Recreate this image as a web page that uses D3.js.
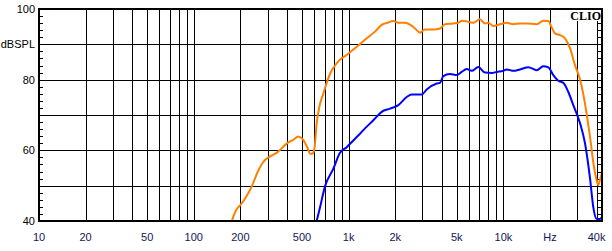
<!DOCTYPE html>
<html>
<head>
<meta charset="utf-8">
<script src="https://cdn.jsdelivr.net/npm/d3@7"></script>
<style>
  html, body { margin: 0; padding: 0; background: #fff; }
  svg { display: block; }
</style>
</head>
<body>
<svg id="chart" width="612" height="251"></svg>
<script>
// ---- Data ----
const xTickValues = [10, 20, 50, 100, 200, 500, 1000, 2000, 5000, 10000, 20000, 40000];
const xTickLabels = ["10", "20", "50", "100", "200", "500", "1k", "2k", "5k", "10k", "Hz", "40k"];
const yTickValues = [100, 90, 80, 60, 40];
const yTickLabels = ["100", "dBSPL", "80", "60", "40"];
const yGridValues = [100, 90, 80, 70, 60, 50, 40];

const orangeFreq = [176, 189, 199, 214, 237, 261, 281, 311, 343, 398, 439, 473, 508, 539, 566, 586, 602, 622, 647, 687, 704, 758, 797, 858, 972, 1128, 1309, 1481, 1636, 1805, 1945, 2095, 2314, 2493, 2685, 2892, 3115, 3525, 3894, 4195, 4747, 5113, 5378, 5933, 6391, 7060, 7604, 7990, 8605, 9507, 10502, 11588, 12800, 14141, 16409, 18106, 19504, 20512, 21544, 23209, 25000, 26928, 29008, 31247, 33664, 36264, 38483, 40060, 41026, 42516, 43300];
const orangeDb   = [40.0, 43.3, 44.4, 46.3, 49.8, 54.3, 56.7, 58.3, 59.3, 61.9, 63.0, 63.9, 63.0, 61.0, 59.0, 59.1, 60.6, 67.6, 72.3, 76.1, 77.6, 81.6, 83.3, 85.2, 87.0, 89.3, 91.7, 93.6, 95.5, 96.2, 96.6, 96.1, 96.1, 95.6, 94.5, 93.3, 94.2, 94.2, 94.5, 95.7, 95.9, 96.1, 96.7, 96.4, 96.1, 97.1, 95.9, 96.1, 95.2, 95.7, 96.1, 95.7, 95.9, 95.9, 95.7, 96.7, 96.6, 94.8, 93.1, 92.6, 91.7, 88.9, 84.1, 80.1, 73.2, 63.8, 55.3, 51.5, 50.2, 52.4, 53.6];

const blueFreq = [622, 654, 704, 797, 880, 972, 1073, 1185, 1276, 1444, 1636, 1851, 2095, 2373, 2556, 2966, 3195, 3708, 3894, 4091, 4519, 4992, 5378, 5793, 6240, 6884, 7604, 8404, 9052, 9986, 10502, 11588, 12800, 14484, 16409, 18106, 19504, 21010, 22634, 24380, 26262, 28290, 31247, 33664, 36264, 38088, 40060, 42073, 43300];
const blueDb   = [40.0, 43.9, 49.8, 54.8, 59.3, 60.9, 62.8, 64.7, 66.2, 68.5, 70.9, 71.8, 72.8, 75.1, 75.8, 75.8, 77.2, 78.9, 79.1, 81.0, 81.6, 81.3, 82.2, 83.0, 82.5, 83.6, 82.0, 81.9, 82.2, 82.5, 82.9, 82.5, 82.9, 83.5, 82.7, 83.8, 83.5, 81.3, 79.7, 79.1, 76.5, 72.8, 67.7, 62.0, 52.1, 43.9, 40.6, 40.6, 41.1];

// ---- Layout ----
const L = 39, R = 602, T = 9, B = 221;
const svg = d3.select("#chart");

const x = d3.scaleLog().domain([10, 43350]).range([L, R]);
const y = d3.scaleLinear().domain([40, 100]).range([B, T]);

const crisp = v => Math.round(v) + 0.5;

// vertical grid lines: 10..90, 100..900, ... up to 40k
const xGrid = [];
for (let d = 10; d <= 10000; d *= 10) {
  for (let m = 1; m <= 9; m++) {
    const f = d * m;
    if (f <= 40000 && f > 10) xGrid.push(f);
  }
}
svg.append("g").selectAll("line").data(xGrid).join("line")
  .attr("x1", d => crisp(x(d))).attr("x2", d => crisp(x(d)))
  .attr("y1", T).attr("y2", B)
  .attr("stroke", "#000").attr("stroke-width", 1);

svg.append("g").selectAll("line").data(yGridValues.filter(v => v > 40 && v < 100)).join("line")
  .attr("x1", L).attr("x2", R)
  .attr("y1", d => crisp(y(d))).attr("y2", d => crisp(y(d)))
  .attr("stroke", "#000").attr("stroke-width", 1);

// minor ticks (every 2 dB) on inner side of left and right frame
const minor = d3.range(42, 100, 2).filter(v => v % 10 !== 0);
svg.append("g").selectAll("line").data(minor).join("line")
  .attr("x1", L).attr("x2", L + 4)
  .attr("y1", d => crisp(y(d))).attr("y2", d => crisp(y(d)))
  .attr("stroke", "#000");
svg.append("g").selectAll("line").data(minor).join("line")
  .attr("x1", R - 4).attr("x2", R)
  .attr("y1", d => crisp(y(d))).attr("y2", d => crisp(y(d)))
  .attr("stroke", "#000");

// CLIO label with white background
svg.append("rect").attr("x", 569).attr("y", 10).attr("width", 32).attr("height", 11).attr("fill", "#fff");
svg.append("text").attr("x", 601).attr("y", 19.5)
  .attr("text-anchor", "end")
  .attr("font-family", "'Liberation Serif', 'Times New Roman', serif")
  .attr("font-weight", "bold").attr("font-size", 12)
  .attr("fill", "#000").text("CLIO");

// curves
svg.append("clipPath").attr("id", "plotclip")
  .append("rect").attr("x", L).attr("y", T).attr("width", R - L).attr("height", B - T);

const line = d3.line().x(d => x(d[0])).y(d => y(d[1])).curve(d3.curveMonotoneX);
const orange = orangeFreq.map((f, i) => [f, orangeDb[i]]);
const blue = blueFreq.map((f, i) => [f, blueDb[i]]);

const curves = svg.append("g").attr("clip-path", "url(#plotclip)");
curves.append("path").attr("d", line(orange)).attr("fill", "none")
  .attr("stroke", "#FF8000").attr("stroke-width", 2).attr("stroke-linejoin", "round");
curves.append("path").attr("d", line(blue)).attr("fill", "none")
  .attr("stroke", "#0000FF").attr("stroke-width", 2).attr("stroke-linejoin", "round");

// frame
svg.append("rect").attr("x", L).attr("y", T).attr("width", R - L).attr("height", B - T)
  .attr("fill", "none").attr("stroke", "#000").attr("stroke-width", 2);

// y labels
svg.append("g").selectAll("text").data(yTickValues).join("text")
  .attr("x", 35).attr("y", d => y(d))
  .attr("dy", "0.35em")
  .attr("text-anchor", "end")
  .attr("font-family", "'Liberation Sans', Arial, sans-serif")
  .attr("font-size", 11).attr("fill", "#000")
  .text((d, i) => yTickLabels[i]);

// x labels
svg.append("g").selectAll("text").data(xTickValues).join("text")
  .attr("x", d => x(d)).attr("y", 241)
  .attr("text-anchor", "middle")
  .attr("font-family", "'Liberation Sans', Arial, sans-serif")
  .attr("font-size", 11).attr("fill", "#14145a")
  .text((d, i) => xTickLabels[i]);
</script>
</body>
</html>
